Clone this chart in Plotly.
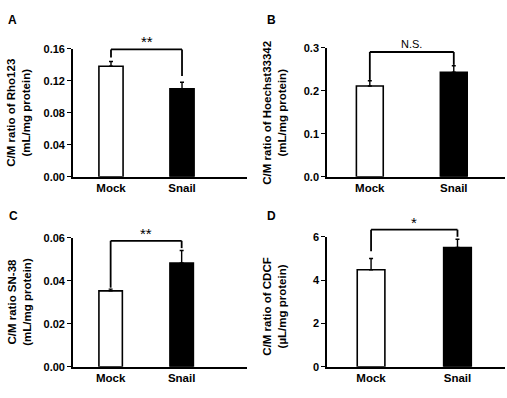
import plotly.graph_objects as go

W, H = 507, 398

categories = ["Mock", "Snail"]
vals_A = [0.138, 0.110]
err_A = [0.006, 0.008]
vals_B = [0.211, 0.243]
err_B = [0.012, 0.015]
vals_C = [0.0353, 0.0483]
err_C = [0.0008, 0.0058]
vals_D = [4.48, 5.51]
err_D = [0.52, 0.38]

ticks_A = [0.00, 0.04, 0.08, 0.12, 0.16]
ticks_B = [0.0, 0.1, 0.2, 0.3]
ticks_C = [0.00, 0.02, 0.04, 0.06]
ticks_D = [0, 2, 4, 6]
ticklabels_A = ["0.00", "0.04", "0.08", "0.12", "0.16"]
ticklabels_B = ["0.0", "0.1", "0.2", "0.3"]
ticklabels_C = ["0.00", "0.02", "0.04", "0.06"]
ticklabels_D = ["0", "2", "4", "6"]

titles = ["C/M ratio of Rho123<br>(mL/mg protein)",
          "C/M ratio of Hoechst33342<br>(mL/mg protein)",
          "C/M ratio SN-38<br>(mL/mg protein)",
          "C/M ratio of CDCF<br>(µL/mg protein)"]
letters = ["A", "B", "C", "D"]
sig = ["**", "N.S.", "**", "*"]
bracket_top = [0.159, 0.290, 0.0586, 6.33]
bracket_leg_mock = [0.149, 0.225, 0.0368, 5.33]
bracket_leg_snail = [0.126, 0.260, 0.0552, 6.00]

panels = [
    dict(v=vals_A, e=err_A, tv=ticks_A, tt=ticklabels_A, yr=[0, 0.16],
         px=(73, 247), py=(44, 176), xr=[-0.535, 1.915], bw=0.34),
    dict(v=vals_B, e=err_B, tv=ticks_B, tt=ticklabels_B, yr=[0, 0.3],
         px=(327, 505), py=(43, 176), xr=[-0.51, 1.61], bw=0.32),
    dict(v=vals_C, e=err_C, tv=ticks_C, tt=ticklabels_C, yr=[0, 0.06],
         px=(73, 247), py=(239, 372), xr=[-0.53, 1.92], bw=0.33),
    dict(v=vals_D, e=err_D, tv=ticks_D, tt=ticklabels_D, yr=[0, 6],
         px=(327, 505), py=(238, 372), xr=[-0.51, 1.55], bw=0.32),
]
title_pos = [(19, 110), (275, 110), (20, 305), (275, 310)]
letter_pos = [(12, 14), (271, 14), (13, 217), (271, 217)]

FONT = "Liberation Sans, Arial, sans-serif"
fig = go.Figure()
layout = dict(width=W, height=H, margin=dict(l=0, r=0, t=0, b=0),
              paper_bgcolor="white", plot_bgcolor="white", showlegend=False,
              font=dict(family=FONT, color="black"))
shapes = []
annotations = []

for i, p in enumerate(panels):
    n = "" if i == 0 else str(i + 1)
    xa, ya = "x" + n, "y" + n
    fig.add_trace(go.Bar(
        x=[0, 1], y=p["v"], width=p["bw"], xaxis=xa, yaxis=ya,
        marker=dict(color=["white", "black"], line=dict(color="black", width=1.6)),
        error_y=dict(type="data", symmetric=False, array=p["e"], arrayminus=[0, 0],
                     color="black", thickness=1.4, width=2),
    ))
    x0, x1 = p["px"]
    y0, y1 = p["py"]
    layout["xaxis" + n] = dict(
        domain=[x0 / W, x1 / W], range=p["xr"], anchor=ya,
        tickvals=[0, 1], ticktext=["<b>%s</b>" % c for c in categories],
        ticks="", showline=True, linecolor="black", linewidth=1.6,
        showgrid=False, zeroline=False, tickfont=dict(size=11.5, family=FONT),
        fixedrange=True)
    layout["yaxis" + n] = dict(
        domain=[1 - y1 / H, 1 - y0 / H], range=p["yr"], anchor=xa,
        tickvals=p["tv"], ticktext=["<b>%s</b>" % t for t in p["tt"]],
        ticks="outside", ticklen=4, tickwidth=1.3, tickcolor="black",
        showline=True, linecolor="black", linewidth=1.6,
        showgrid=False, zeroline=False, tickfont=dict(size=11, family=FONT),
        fixedrange=True)

    # convert data values to axis-domain fractions (so brackets above the range are not clipped)
    def fx(v, r=p["xr"]):
        return (v - r[0]) / (r[1] - r[0])

    def fy(v, r=p["yr"]):
        return (v - r[0]) / (r[1] - r[0])

    xd, yd = xa + " domain", ya + " domain"
    bt = bracket_top[i]
    for xs, ys in [((0, 0), (bracket_leg_mock[i], bt)),
                   ((0, 1), (bt, bt)),
                   ((1, 1), (bt, bracket_leg_snail[i]))]:
        shapes.append(dict(type="line", xref=xd, yref=yd,
                           x0=fx(xs[0]), x1=fx(xs[1]),
                           y0=fy(ys[0]), y1=fy(ys[1]),
                           line=dict(color="black", width=1.8)))
    star = "*" in sig[i]
    annotations.append(dict(x=fx(0.5), y=fy(bt), xref=xd, yref=yd, text=sig[i],
                            showarrow=False, yanchor="bottom", yshift=-3 if star else 0,
                            font=dict(size=15 if star else 11, family=FONT)))
    tx, ty = title_pos[i]
    annotations.append(dict(x=tx / W, y=1 - ty / H, xref="paper", yref="paper",
                            text="<b>%s</b>" % titles[i], textangle=-90,
                            showarrow=False, xanchor="center", yanchor="middle",
                            font=dict(size=11.5, family=FONT)))
    lx, ly = letter_pos[i]
    annotations.append(dict(x=lx / W, y=1 - ly / H, xref="paper", yref="paper",
                            text="<b>%s</b>" % letters[i], showarrow=False,
                            xanchor="center", yanchor="middle",
                            font=dict(size=12, family=FONT)))

layout["shapes"] = shapes
layout["annotations"] = annotations
fig.update_layout(**layout)
fig.write_html("out.html")
